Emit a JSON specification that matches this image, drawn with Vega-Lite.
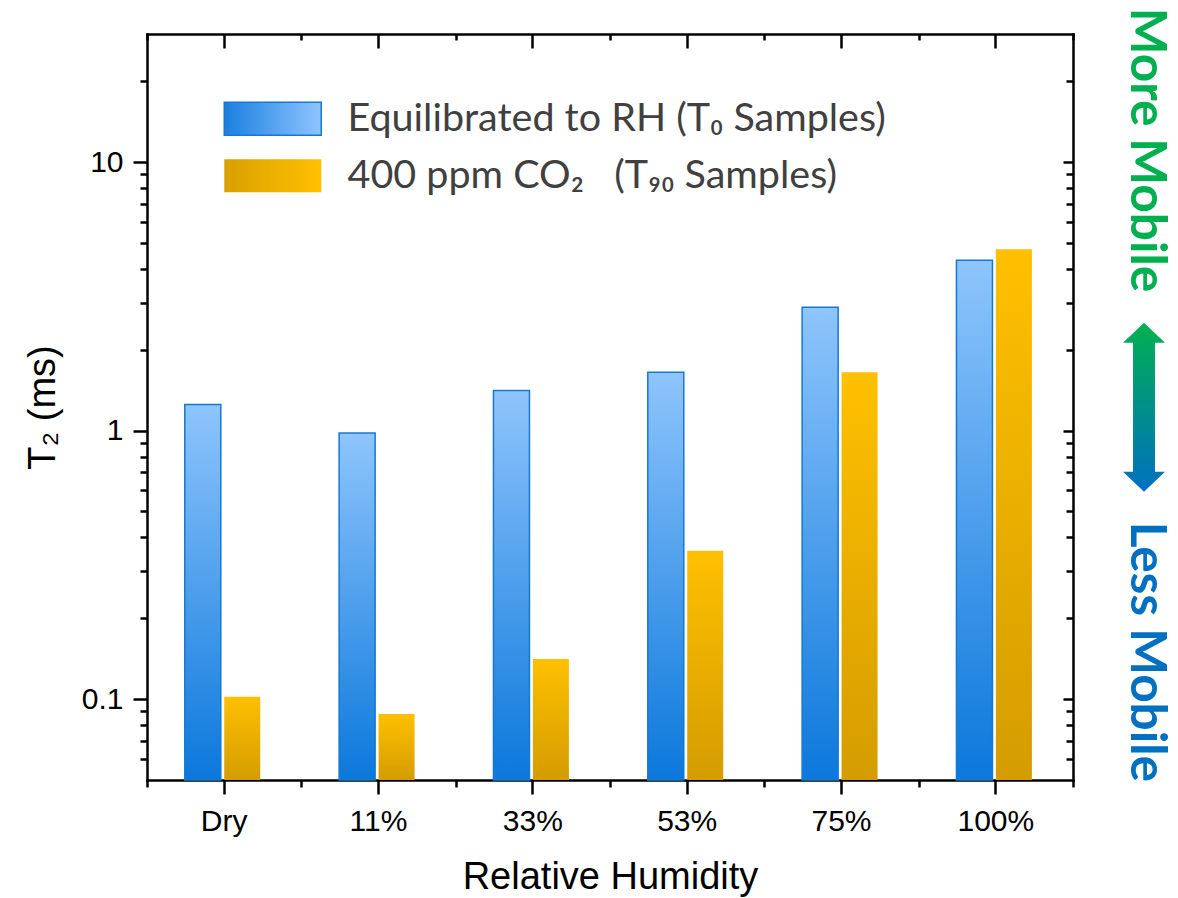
{
  "$schema": "https://vega.github.io/schema/vega-lite/v6.json",
  "width": 926,
  "height": 746,
  "autosize": {"type": "none"},
  "padding": {"left": 147, "top": 34, "right": 105, "bottom": 118},
  "background": "white",
  "config": {
    "view": {"stroke": null},
    "axis": {
      "grid": false,
      "domain": false,
      "domainColor": "black",
      "domainWidth": 2.5,
      "domainCap": "square",
      "tickColor": "black",
      "tickWidth": 2.5,
      "labelColor": "black",
      "titleColor": "black",
      "labelFont": "Liberation Sans",
      "titleFont": "Liberation Sans",
      "titleFontWeight": "normal",
      "zindex": 1
    }
  },
  "datasets": {
    "t2": [
      {"rh": "Dry", "series": "T0", "t2": 1.25},
      {"rh": "Dry", "series": "T90", "t2": 0.102},
      {"rh": "11%", "series": "T0", "t2": 0.98},
      {"rh": "11%", "series": "T90", "t2": 0.088},
      {"rh": "33%", "series": "T0", "t2": 1.41},
      {"rh": "33%", "series": "T90", "t2": 0.141},
      {"rh": "53%", "series": "T0", "t2": 1.65},
      {"rh": "53%", "series": "T90", "t2": 0.357},
      {"rh": "75%", "series": "T0", "t2": 2.88},
      {"rh": "75%", "series": "T90", "t2": 1.65},
      {"rh": "100%", "series": "T0", "t2": 4.31},
      {"rh": "100%", "series": "T90", "t2": 4.74}
    ],
    "notes": [
      {"label": "More Mobile", "v": 11.1},
      {"label": "Less Mobile", "v": 0.15}
    ]
  },
  "data": {"name": "t2"},
  "resolve": {"axis": {"x": "independent", "y": "independent"}, "scale": {"shape": "independent"}, "legend": {"shape": "independent"}},
  "layer": [
    {
      "transform": [{"filter": "datum.series === 'T0'"}],
      "mark": {
        "type": "bar",
        "fill": {"gradient": "linear", "x1": 0.5, "y1": 0, "x2": 0.5, "y2": 1,
          "stops": [{"offset": 0, "color": "#8ec5fc"}, {"offset": 1, "color": "#0b78db"}]},
        "stroke": "#1778d2",
        "strokeWidth": 1.5
      },
      "encoding": {
        "x": {
          "field": "rh", "type": "nominal",
          "scale": {"domain": ["Dry", "11%", "33%", "53%", "75%", "100%"], "paddingInner": 0, "paddingOuter": 0},
          "axis": {"orient": "bottom", "domain": true, "title": "Relative Humidity", "tickSize": 14, "labelAngle": 0,
            "labelFontSize": 30, "labelPadding": 12, "titleFontSize": 38, "titlePadding": 22}
        },
        "xOffset": {"field": "series", "type": "nominal",
          "scale": {"domain": ["T0", "T90"], "paddingInner": 0.087, "paddingOuter": 1.28, "align": 0.479}},
        "y": {
          "field": "t2", "type": "quantitative",
          "scale": {"type": "log", "domain": [0.05, 30], "nice": false},
          "axis": {"orient": "left", "domain": true, "values": [0.1, 1, 10], "format": "~g", "tickSize": 14,
            "labelFontSize": 30, "labelPadding": 10, "title": "T₂ (ms)", "titleFontSize": 38, "titlePadding": 19}
        },
        "y2": {"datum": 0.05}
      }
    },
    {
      "transform": [{"filter": "datum.series === 'T90'"}],
      "mark": {
        "type": "bar",
        "fill": {"gradient": "linear", "x1": 0.5, "y1": 0, "x2": 0.5, "y2": 1,
          "stops": [{"offset": 0, "color": "#ffc000"}, {"offset": 1, "color": "#d49c00"}]}
      },
      "encoding": {
        "x": {
          "field": "rh", "type": "nominal",
          "scale": {"domain": ["Dry", "11%", "33%", "53%", "75%", "100%"], "paddingInner": 0, "paddingOuter": 0},
          "axis": {"orient": "bottom", "tickBand": "extent", "tickSize": 7, "labels": false, "title": null}
        },
        "xOffset": {"field": "series", "type": "nominal",
          "scale": {"domain": ["T0", "T90"], "paddingInner": 0.087, "paddingOuter": 1.28, "align": 0.479}},
        "y": {
          "field": "t2", "type": "quantitative",
          "scale": {"type": "log", "domain": [0.05, 30], "nice": false},
          "axis": {"orient": "left", "values": [0.06, 0.07, 0.08, 0.09, 0.2, 0.3, 0.4, 0.5, 0.6, 0.7, 0.8, 0.9, 2, 3, 4, 5, 6, 7, 8, 9, 20],
            "tickSize": 7, "labels": false, "title": null}
        },
        "y2": {"datum": 0.05}
      }
    },
    {
      "mark": {"type": "point", "opacity": 0},
      "encoding": {
        "x": {
          "field": "rh", "type": "nominal",
          "scale": {"domain": ["Dry", "11%", "33%", "53%", "75%", "100%"], "paddingInner": 0, "paddingOuter": 0},
          "axis": {"orient": "top", "domain": true, "tickSize": -14, "labels": false, "title": null}
        }
      }
    },
    {
      "mark": {"type": "point", "opacity": 0},
      "encoding": {
        "x": {
          "field": "rh", "type": "nominal",
          "scale": {"domain": ["Dry", "11%", "33%", "53%", "75%", "100%"], "paddingInner": 0, "paddingOuter": 0},
          "axis": {"orient": "top", "tickBand": "extent", "tickSize": -6, "labels": false, "title": null}
        }
      }
    },
    {
      "data": {"values": []},
      "mark": {
        "type": "point", "filled": true, "opacity": 1, "size": 1089,
        "fill": {"gradient": "linear", "x1": 0, "y1": 0.5, "x2": 1, "y2": 0.5,
          "stops": [{"offset": 0, "color": "#1a7fe0"}, {"offset": 1, "color": "#8fc5ff"}]},
        "stroke": "#1778d2", "strokeWidth": 1.5
      },
      "encoding": {
        "shape": {
          "datum": "Equilibrated to RH (T₀ Samples)", "type": "nominal",
          "scale": {"domain": ["Equilibrated to RH (T₀ Samples)"], "range": ["M-1,-1H4.88V1H-1Z"]},
          "legend": {"orient": "none", "legendX": 74, "legendY": 65, "title": null, "padding": 0, "symbolSize": 1089,
            "symbolStrokeWidth": 1.5, "labelFont": "Lato", "labelFontSize": 39.5, "labelColor": "#404040", "labelOffset": 87, "labelLimit": 800}
        }
      }
    },
    {
      "data": {"values": []},
      "mark": {
        "type": "point", "filled": true, "opacity": 1, "size": 1089,
        "fill": {"gradient": "linear", "x1": 0, "y1": 0.5, "x2": 1, "y2": 0.5,
          "stops": [{"offset": 0, "color": "#d9a000"}, {"offset": 1, "color": "#ffc000"}]},
        "stroke": "transparent", "strokeWidth": 0
      },
      "encoding": {
        "shape": {
          "datum": "400 ppm CO₂\u00a0\u00a0\u00a0(T₉₀ Samples)", "type": "nominal",
          "scale": {"domain": ["400 ppm CO₂\u00a0\u00a0\u00a0(T₉₀ Samples)"], "range": ["M-1,-1H4.88V1H-1Z"]},
          "legend": {"orient": "none", "legendX": 74, "legendY": 122, "title": null, "padding": 0, "symbolSize": 1089,
            "symbolStrokeWidth": 0, "labelFont": "Lato", "labelFontSize": 39.5, "labelColor": "#404040", "labelOffset": 87, "labelLimit": 800}
        }
      }
    },
    {
      "data": {"name": "notes"},
      "mark": {"type": "text", "angle": 90, "align": "center", "baseline": "middle", "font": "Lato", "fontWeight": "bold",
        "fontSize": 49.5, "x": {"expr": "width + 73"}},
      "encoding": {
        "y": {
          "field": "v", "type": "quantitative",
          "scale": {"type": "log", "domain": [0.05, 30], "nice": false},
          "axis": {"orient": "right", "domain": true, "values": [0.1, 1, 10], "tickSize": -10, "labels": false, "title": null}
        },
        "text": {"field": "label"},
        "color": {"condition": {"test": "datum.label === 'More Mobile'", "value": "#00b050"}, "value": "#0070c0"}
      }
    },
    {
      "data": {"values": [{"what": "arrow"}]},
      "mark": {
        "type": "point", "filled": true, "opacity": 1, "size": 28561, "x": {"expr": "width + 71"},
        "shape": "M0,-1L0.2485,-0.763L0.13,-0.763L0.13,0.763L0.2485,0.763L0,1L-0.2485,0.763L-0.13,0.763L-0.13,-0.763L-0.2485,-0.763Z",
        "fill": {"gradient": "linear", "x1": 0.5, "y1": 0, "x2": 0.5, "y2": 1,
          "stops": [{"offset": 0, "color": "#00b050"}, {"offset": 1, "color": "#0070c0"}]},
        "strokeWidth": 0
      },
      "encoding": {
        "y": {
          "datum": 1.223, "type": "quantitative",
          "scale": {"type": "log", "domain": [0.05, 30], "nice": false},
          "axis": {"orient": "right", "values": [0.06, 0.07, 0.08, 0.09, 0.2, 0.3, 0.4, 0.5, 0.6, 0.7, 0.8, 0.9, 2, 3, 4, 5, 6, 7, 8, 9, 20],
            "tickSize": -7, "labels": false, "title": null}
        }
      }
    }
  ]
}
